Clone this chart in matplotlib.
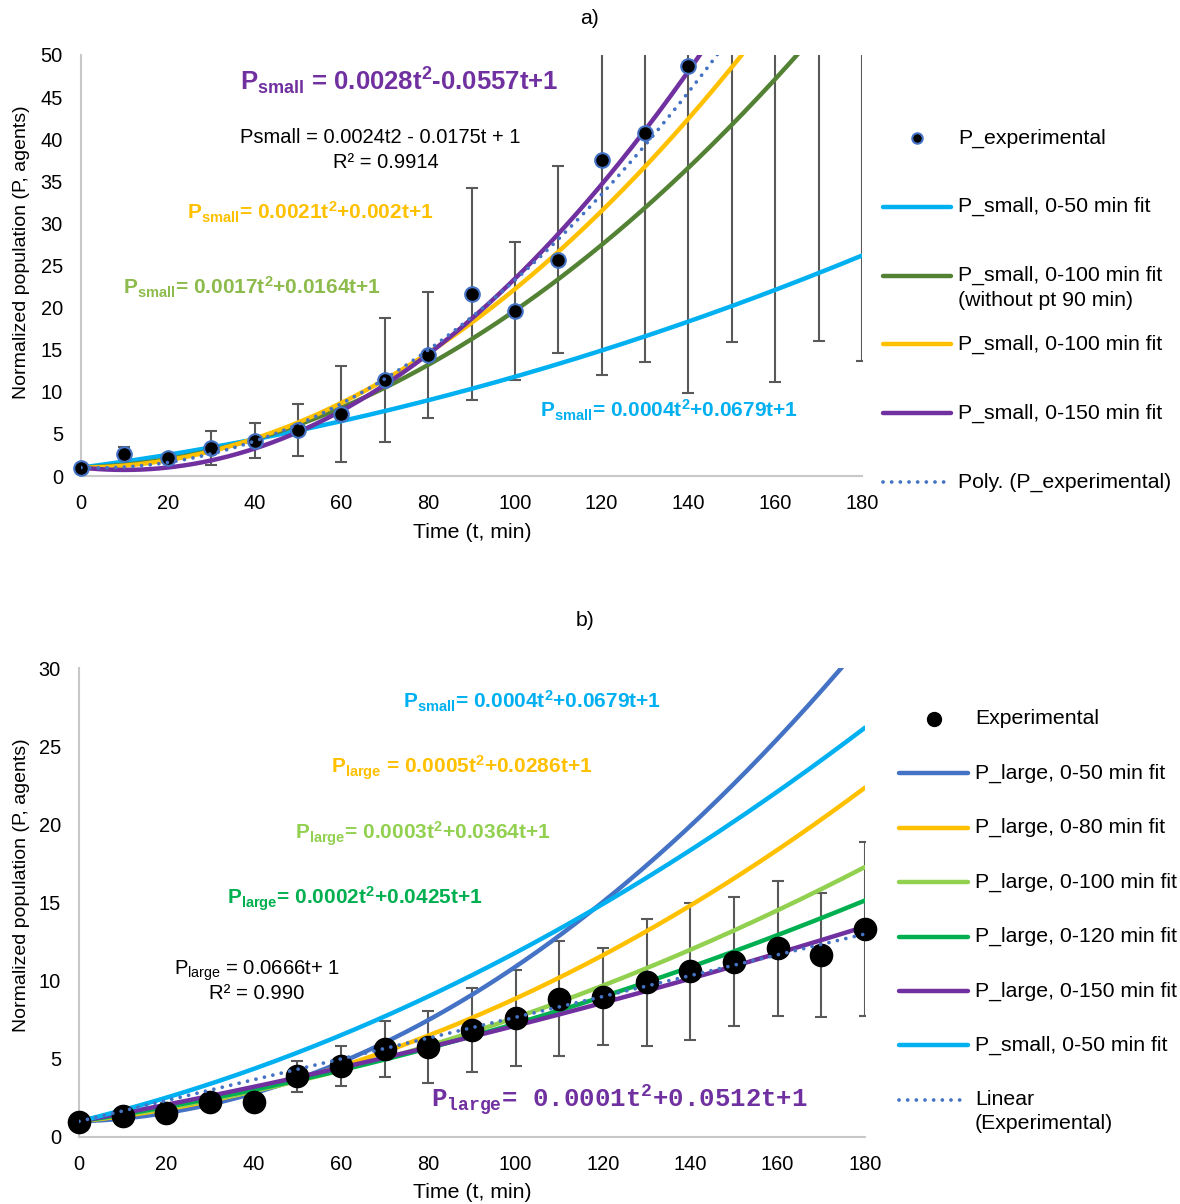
import numpy as np
import matplotlib.pyplot as plt
from matplotlib.lines import Line2D
from matplotlib.transforms import Affine2D

plt.rcParams['font.family'] = ['Liberation Sans', 'DejaVu Sans']
plt.rcParams['font.size'] = 14
plt.rcParams['mathtext.default'] = 'regular'

W, H = 1180, 1204

# ---- a) small agents ----
t_a = np.arange(0, 190, 10)
p_small = [1.0, 2.6, 2.1, 3.3, 4.2, 5.5, 7.4, 11.4, 14.4, 21.6, 19.6, 25.7,
           37.5, 40.7, 48.7, 58.0, 66.0, 75.0, 85.0]
err_small = [0.0, 0.9, 0.4, 2.0, 2.1, 3.1, 5.7, 7.4, 7.5, 12.6, 8.2, 11.1,
             25.5, 27.2, 38.9, 42.1, 54.8, 59.0, 71.4]

fit_a_labels = ['P_small, 0-50 min fit',
                'P_small, 0-100 min fit\n(without pt 90 min)',
                'P_small, 0-100 min fit',
                'P_small, 0-150 min fit']
fit_a_coefs = [(0.0004, 0.0679, 1), (0.0017, 0.0164, 1),
               (0.0021, 0.002, 1), (0.0028, -0.0557, 1)]
fit_a_colors = ['#00B0F0', '#548235', '#FFC000', '#7030A0']
trend_a = (0.0024, -0.0175, 1)

# ---- b) large agents ----
t_b = np.arange(0, 190, 10)
p_large = [0.95, 1.32, 1.55, 2.22, 2.25, 3.88, 4.54, 5.62, 5.78, 6.83, 7.62,
           8.85, 8.98, 9.9, 10.6, 11.22, 12.07, 11.64, 13.29]
err_large = [0.0, 0.3, 0.6, 0.3, 0.3, 1.0, 1.26, 1.8, 2.3, 2.7, 3.05, 3.7,
             3.1, 4.05, 4.4, 4.1, 4.3, 3.95, 5.55]

fit_b_labels = ['P_large, 0-50 min fit', 'P_large, 0-80 min fit',
                'P_large, 0-100 min fit', 'P_large, 0-120 min fit',
                'P_large, 0-150 min fit', 'P_small, 0-50 min fit']
fit_b_coefs = [(0.0009, 0.009, 1), (0.0005, 0.0286, 1), (0.0003, 0.0364, 1),
               (0.0002, 0.0425, 1), (0.0001, 0.0512, 1), (0.0004, 0.0679, 1)]
fit_b_colors = ['#4472C4', '#FFC000', '#92D050', '#00B050', '#7030A0', '#00B0F0']
trend_b = (0.0666, 1)

ERR_COLOR = '#595959'
DOT_COLOR = '#4472C4'
DOTTED = (0, (0.01, 2.3))
DOT_LW = 2.7
LABEL_FS = 15.3
TICK_FS = 14.4

fig = plt.figure(figsize=(W / 100, H / 100), dpi=100)
# pixel coordinates measured from the top-left corner of the figure
px = Affine2D().scale(1 / W, -1 / H).translate(0, 1) + fig.transFigure

ax_a = fig.add_axes([81 / W, 1 - 476 / H, 781 / W, 421 / H])
ax_b = fig.add_axes([79 / W, 1 - 1137 / H, 786 / W, 469 / H])

tt = np.linspace(0, 180, 361)


def style_axes(ax, ymax, ystep):
    ax.set_xlim(0, 180)
    ax.set_ylim(0, ymax)
    ax.set_xticks(np.arange(0, 181, 20))
    ax.set_yticks(np.arange(0, ymax + 1, ystep))
    for s in ('top', 'right'):
        ax.spines[s].set_visible(False)
    for s in ('left', 'bottom'):
        ax.spines[s].set_color('#C8C8C8')
        ax.spines[s].set_linewidth(1.5)
    ax.tick_params(length=0, pad=13, labelsize=TICK_FS)


def trend(ax, x, y):
    ax.plot(x, y, color=DOT_COLOR, lw=DOT_LW, ls=DOTTED,
            dash_capstyle='round', zorder=4)


# panel a
ax = ax_a
ax.errorbar(t_a, p_small, yerr=err_small, fmt='none', ecolor=ERR_COLOR,
            elinewidth=1.5, capsize=4.5, capthick=1.5, zorder=1)
for c, col in zip(fit_a_coefs, fit_a_colors):
    ax.plot(tt, np.polyval(c, tt), color=col, lw=3.2, zorder=2,
            solid_capstyle='round')
ax.plot(t_a, p_small, 'o', color='black', mec=DOT_COLOR, mew=1.5, ms=10.5,
        zorder=3, clip_on=False)
trend(ax, tt, np.polyval(trend_a, tt))
style_axes(ax, 50, 5)

bold = dict(fontweight='bold', fontsize=15)
ax.text(36.6, 45.8, 'P$_{small}$ = 0.0028t$^{2}$-0.0557t+1', color='#7030A0',
        fontweight='bold', fontsize=18.5)
ax.text(68.9, 39.5, 'Psmall = 0.0024t2 - 0.0175t + 1', ha='center', fontsize=14.5)
ax.text(70.2, 36.6, 'R² = 0.9914', ha='center', fontsize=14.5)
ax.text(24.4, 30.5, 'P$_{small}$= 0.0021t$^{2}$+0.002t+1', color='#FFC000', **bold)
ax.text(9.75, 21.5, 'P$_{small}$= 0.0017t$^{2}$+0.0164t+1', color='#8DBB4C', **bold)
ax.text(105.8, 6.9, 'P$_{small}$= 0.0004t$^{2}$+0.0679t+1', color='#00B0F0', **bold)

# panel b
ax = ax_b
ax.errorbar(t_b, p_large, yerr=err_large, fmt='none', ecolor=ERR_COLOR,
            elinewidth=1.5, capsize=4.5, capthick=1.5, zorder=1)
for c, col in zip(fit_b_coefs, fit_b_colors):
    ax.plot(tt, np.polyval(c, tt), color=col, lw=3.2, zorder=2,
            solid_capstyle='round')
ax.plot(t_b, p_large, 'o', color='black', ms=16, zorder=3, clip_on=False)
trend(ax, tt, np.polyval(trend_b, tt))
style_axes(ax, 30, 5)

ax.text(74.2, 27.44, 'P$_{small}$= 0.0004t$^{2}$+0.0679t+1', color='#00B0F0', **bold)
ax.text(57.6, 23.28, 'P$_{large}$ = 0.0005t$^{2}$+0.0286t+1', color='#FFC000', **bold)
ax.text(49.5, 19.0, 'P$_{large}$= 0.0003t$^{2}$+0.0364t+1', color='#92D050', **bold)
ax.text(33.8, 14.9, 'P$_{large}$= 0.0002t$^{2}$+0.0425t+1', color='#00B050', **bold)
ax.text(40.7, 10.36, 'P$_{large}$ = 0.0666t+ 1', ha='center', fontsize=14.6)
ax.text(40.8, 8.83, 'R² = 0.990', ha='center', fontsize=14.6)
ax.text(80.5, 1.855, 'P$_{large}$= 0.0001t$^{2}$+0.0512t+1', color='#7030A0',
        family='Liberation Mono', fontweight='bold', fontsize=18.5)

# titles and axis titles
fig.text(590, 18, 'a)', transform=px, ha='center', va='center', fontsize=LABEL_FS)
fig.text(585, 621, 'b)', transform=px, ha='center', va='center', fontsize=LABEL_FS)
fig.text(472, 533, 'Time (t, min)', transform=px, ha='center', va='center',
         fontsize=LABEL_FS)
fig.text(472, 1192, 'Time (t, min)', transform=px, ha='center', va='center',
         fontsize=LABEL_FS)
fig.text(22, 252, 'Normalized population (P, agents)', transform=px, rotation=90,
         ha='center', va='center', fontsize=14)
fig.text(22, 885, 'Normalized population (P, agents)', transform=px, rotation=90,
         ha='center', va='center', fontsize=14)


def legend_rows(x0, x1, rows, line_gap=24.5):
    for y, kind, style, label in rows:
        if kind == 'marker':
            fig.add_artist(Line2D([(x0 + x1) / 2], [y], transform=px, marker='o',
                                  color='black', **style))
        elif kind == 'dotted':
            fig.add_artist(Line2D([x0, x1], [y, y], transform=px, color=style,
                                  lw=DOT_LW, ls=DOTTED, dash_capstyle='round'))
        else:
            fig.add_artist(Line2D([x0, x1], [y, y], transform=px, color=style,
                                  lw=3.2, solid_capstyle='round'))
        for k, part in enumerate(label.split('\n')):
            fig.text(x1 + 7, y + k * line_gap, part, transform=px, va='center',
                     fontsize=LABEL_FS)


step_a = 68.8
rows_a = [(138, 'marker', dict(mec=DOT_COLOR, mew=1.5, ms=7.5), 'P_experimental')]
for i, (lab, col) in enumerate(zip(fit_a_labels, fit_a_colors)):
    rows_a.append((138 + step_a * (i + 1), 'line', col, lab))
rows_a.append((138 + step_a * 5, 'dotted', DOT_COLOR, 'Poly. (P_experimental)'))
legend_rows(883, 951, rows_a)

step_b = 54.4
rows_b = [(719, 'marker', dict(ms=10), 'Experimental')]
for i, (lab, col) in enumerate(zip(fit_b_labels, fit_b_colors)):
    rows_b.append((719 + step_b * (i + 1), 'line', col, lab))
rows_b.append((719 + step_b * 7, 'dotted', DOT_COLOR, 'Linear\n(Experimental)'))
legend_rows(899, 968, rows_b, line_gap=24)

fig.savefig('out.png', dpi=100)
